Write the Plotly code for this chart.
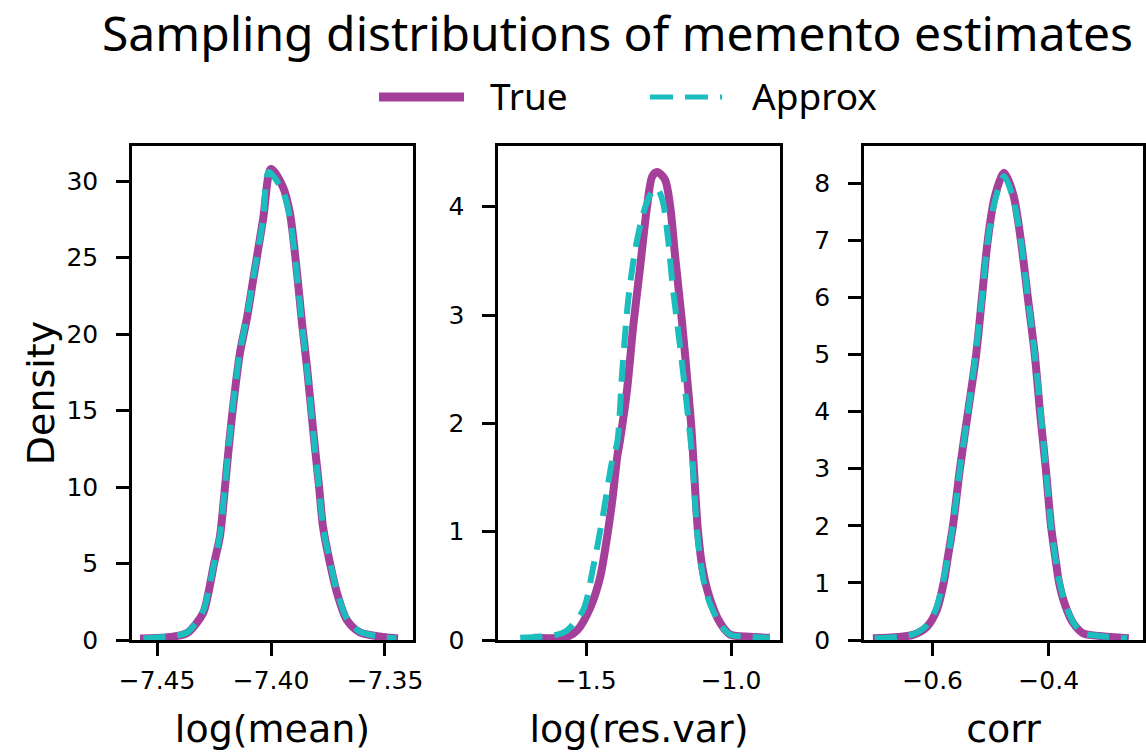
import plotly.graph_objects as go

# ---- data -------------------------------------------------------------
panel_labels = ["log(mean)", "log(res.var)", "corr"]

mean_true_x = [-7.4575, -7.4443, -7.4368, -7.4298, -7.4276, -7.4250, -7.4224, -7.4202,
               -7.4184, -7.4167, -7.4136, -7.4105, -7.4079, -7.4035, -7.4000, -7.3947,
               -7.3917, -7.3886, -7.3864, -7.3842, -7.3811, -7.3789, -7.3772, -7.3741,
               -7.3711, -7.3667, -7.3610, -7.3509, -7.3443]
mean_true_y = [0.1, 0.2, 0.46, 1.76, 3.0, 5.0, 6.8, 10.0, 12.8, 15.2, 18.8, 21.1, 23.5,
               27.5, 30.8, 29.6, 27.9, 24.0, 20.7, 17.8, 13.1, 10.0, 7.4, 5.0, 3.1, 1.3,
               0.5, 0.2, 0.1]
mean_approx_x = [-7.4560, -7.4443, -7.4368, -7.4298, -7.4276, -7.4250, -7.4224, -7.4202,
                 -7.4184, -7.4167, -7.4136, -7.4105, -7.4079, -7.4035, -7.4010, -7.3947,
                 -7.3917, -7.3886, -7.3864, -7.3842, -7.3811, -7.3789, -7.3772, -7.3741,
                 -7.3711, -7.3667, -7.3610, -7.3509, -7.3450]
mean_approx_y = [0.1, 0.25, 0.5, 1.9, 3.1, 5.0, 6.9, 10.1, 12.9, 15.4, 18.9, 21.2, 23.6,
                 27.5, 30.6, 29.3, 27.6, 23.8, 20.6, 17.7, 13.0, 9.9, 7.4, 5.1, 3.2, 1.4,
                 0.55, 0.2, 0.1]

var_true_x = [-1.683, -1.566, -1.531, -1.486, -1.452, -1.428, -1.410, -1.393, -1.383,
              -1.359, -1.338, -1.314, -1.290, -1.272, -1.255, -1.228, -1.210, -1.193,
              -1.169, -1.148, -1.138, -1.132, -1.123, -1.114, -1.099, -1.075, -1.038,
              -1.003, -0.934, -0.866]
var_true_y = [0.02, 0.03, 0.09, 0.30, 0.58, 0.95, 1.29, 1.69, 1.85, 2.31, 2.89, 3.44,
              4.00, 4.28, 4.32, 4.25, 4.00, 3.54, 2.93, 2.31, 2.00, 1.75, 1.35, 1.00,
              0.67, 0.40, 0.16, 0.05, 0.03, 0.02]
var_approx_x = [-1.728, -1.600, -1.566, -1.510, -1.476, -1.441, -1.410, -1.393, -1.376,
                -1.355, -1.331, -1.303, -1.279, -1.262, -1.250, -1.234, -1.217, -1.200,
                -1.176, -1.152, -1.134, -1.117, -1.095, -1.072, -1.038, -1.003, -0.934,
                -0.866]
var_approx_y = [0.02, 0.05, 0.09, 0.28, 0.67, 1.17, 1.66, 1.82, 2.47, 3.14, 3.60, 3.94,
                4.11, 4.17, 4.15, 4.03, 3.69, 3.23, 2.71, 2.15, 1.69, 1.00, 0.55, 0.33,
                0.15, 0.05, 0.03, 0.02]

corr_true_x = [-0.703, -0.634, -0.610, -0.593, -0.581, -0.573, -0.565, -0.553, -0.539,
               -0.525, -0.515, -0.505, -0.493, -0.477, -0.461, -0.448, -0.436, -0.424,
               -0.415, -0.405, -0.396, -0.388, -0.382, -0.372, -0.358, -0.341, -0.312,
               -0.262]
corr_true_y = [0.03, 0.09, 0.23, 0.52, 1.00, 1.50, 2.00, 3.00, 4.00, 5.00, 6.00, 7.00,
               7.76, 8.18, 7.80, 7.00, 6.00, 5.00, 4.00, 3.00, 2.00, 1.40, 1.00, 0.62,
               0.30, 0.12, 0.07, 0.03]
corr_approx_x = [-0.700, -0.634, -0.611, -0.594, -0.582, -0.573, -0.565, -0.553, -0.539,
                 -0.526, -0.515, -0.505, -0.492, -0.477, -0.462, -0.448, -0.436, -0.424,
                 -0.414, -0.405, -0.396, -0.388, -0.381, -0.371, -0.357, -0.341, -0.312,
                 -0.265]
corr_approx_y = [0.03, 0.10, 0.25, 0.55, 1.02, 1.50, 2.02, 3.00, 4.00, 5.00, 6.00, 7.00,
                 7.72, 8.12, 7.76, 7.00, 6.00, 5.00, 4.00, 3.00, 2.00, 1.40, 1.00, 0.62,
                 0.30, 0.12, 0.07, 0.03]

x_tick_vals = [[-7.45, -7.40, -7.35], [-1.5, -1.0], [-0.6, -0.4]]
x_tick_text = [["\u22127.45", "\u22127.40", "\u22127.35"], ["\u22121.5", "\u22121.0"],
               ["\u22120.6", "\u22120.4"]]
y_tick_vals = [[0, 5, 10, 15, 20, 25, 30], [0, 1, 2, 3, 4], [0, 1, 2, 3, 4, 5, 6, 7, 8]]

x_ranges = [[-7.461, -7.3377], [-1.8045, -0.831], [-0.7184, -0.2374]]
y_ranges = [[0, 32.3], [0, 4.56], [0, 8.65]]

series_names = ["True", "Approx"]
title_text = "Sampling distributions of memento estimates"

# ---- style ------------------------------------------------------------
TRUE_COLOR = "#A4409A"
APPROX_COLOR = "#1BBDBD"
APPROX_DASH = "22px,12px"
W, H = 1146, 756
x_domains = [[0.1152, 0.3604], [0.4346, 0.6806], [0.7539, 0.9974]]
y_domain = [0.1534, 0.8069]
TICK_FONT = dict(family="DejaVu Sans", size=25, color="black")
LABEL_FONT = dict(family="DejaVu Sans", size=38, color="black")
HEAD_FONT = "Noto Sans"

fig = go.Figure()

panels = [
    (mean_true_x, mean_true_y, mean_approx_x, mean_approx_y),
    (var_true_x, var_true_y, var_approx_x, var_approx_y),
    (corr_true_x, corr_true_y, corr_approx_x, corr_approx_y),
]

for i, (tx, ty, ax, ay) in enumerate(panels):
    suffix = "" if i == 0 else str(i + 1)
    fig.add_trace(go.Scatter(
        x=tx, y=ty, mode="lines", name=series_names[0], legendgroup=series_names[0],
        line=dict(color=TRUE_COLOR, width=8, shape="spline", smoothing=0.8),
        xaxis="x" + suffix, yaxis="y" + suffix, showlegend=False,
    ))
    fig.add_trace(go.Scatter(
        x=ax, y=ay, mode="lines", name=series_names[1], legendgroup=series_names[1],
        line=dict(color=APPROX_COLOR, width=6, dash=APPROX_DASH, shape="spline", smoothing=0.8),
        xaxis="x" + suffix, yaxis="y" + suffix, showlegend=False,
    ))

axis_common = dict(
    showline=True, linecolor="black", linewidth=2.5, mirror=True,
    ticks="outside", ticklen=13, tickwidth=2.5, tickcolor="black",
    showgrid=False, zeroline=False, tickfont=TICK_FONT, fixedrange=True,
    automargin=False,
)

layout_axes = {}
for i in range(3):
    suffix = "" if i == 0 else str(i + 1)
    layout_axes["xaxis" + suffix] = dict(
        axis_common, domain=x_domains[i], range=x_ranges[i], anchor="y" + suffix,
        tickmode="array", tickvals=x_tick_vals[i], ticktext=x_tick_text[i],
        ticklabelstandoff=3,
        title=dict(text=panel_labels[i], font=LABEL_FONT, standoff=22),
    )
    layout_axes["yaxis" + suffix] = dict(
        axis_common, domain=y_domain, range=y_ranges[i], anchor="x" + suffix,
        tickmode="array", tickvals=y_tick_vals[i], ticklabelstandoff=13,
        title=dict(text="Density" if i == 0 else "", font=LABEL_FONT, standoff=1),
    )

# figure heading and a hand-placed key above the panels
legend_y = 1 - 97 / H
shapes = [
    dict(type="line", xref="paper", yref="paper", x0=379 / W, x1=464 / W,
         y0=legend_y, y1=legend_y, line=dict(color=TRUE_COLOR, width=9)),
    dict(type="line", xref="paper", yref="paper", x0=650 / W, x1=722 / W,
         y0=legend_y, y1=legend_y, line=dict(color=APPROX_COLOR, width=5, dash="23px,12px")),
]
annotations = [
    dict(text=title_text, x=617 / W, y=1 - 32 / H, xref="paper", yref="paper",
         xanchor="center", yanchor="middle", showarrow=False,
         font=dict(family=HEAD_FONT, size=48, color="black")),
    dict(text=series_names[0], x=488 / W, y=1 - 95 / H, xref="paper", yref="paper",
         xanchor="left", yanchor="middle", showarrow=False,
         font=dict(family=HEAD_FONT, size=37, color="black")),
    dict(text=series_names[1], x=750 / W, y=1 - 95 / H, xref="paper", yref="paper",
         xanchor="left", yanchor="middle", showarrow=False,
         font=dict(family=HEAD_FONT, size=37, color="black")),
]

fig.update_layout(
    width=W, height=H,
    margin=dict(l=0, r=0, t=0, b=0),
    paper_bgcolor="white", plot_bgcolor="white",
    showlegend=False,
    shapes=shapes,
    annotations=annotations,
    **layout_axes,
)

fig.write_html("out.html")
